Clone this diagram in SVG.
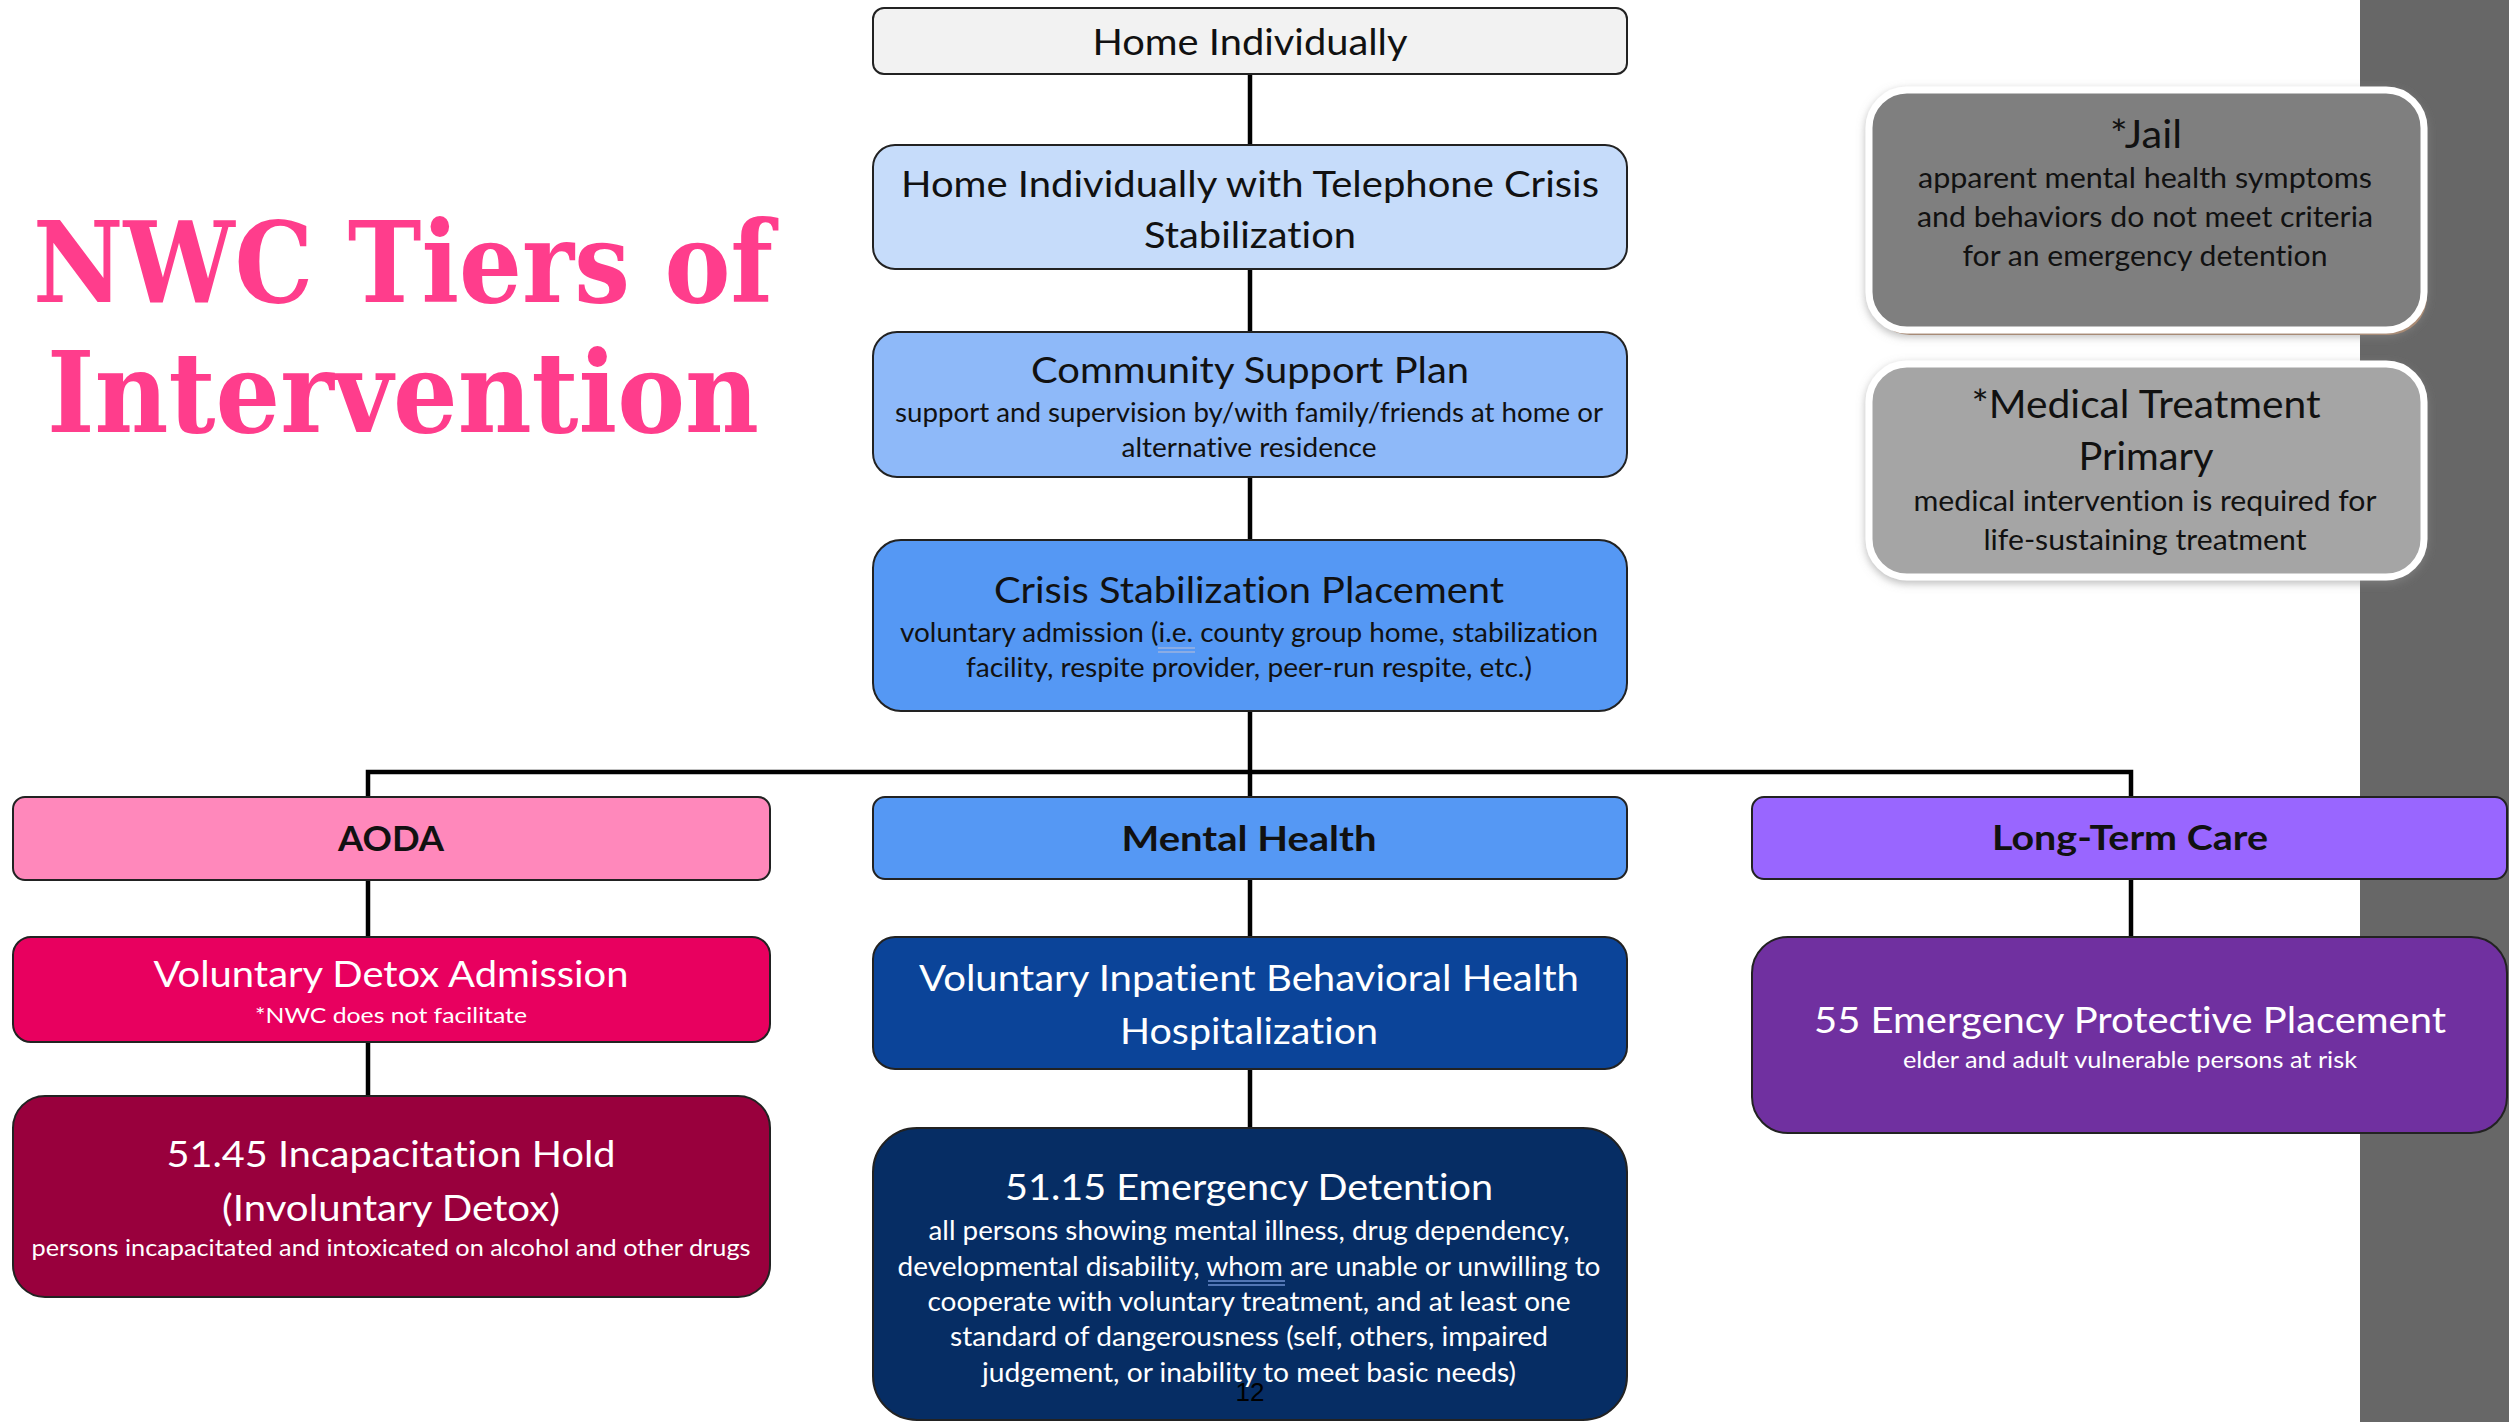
<svg xmlns="http://www.w3.org/2000/svg" width="2509" height="1422" viewBox="0 0 2509 1422">
  <style>
    .box { stroke: #222222; stroke-width: 2; }
    .t { font-family: Lato, "Open Sans", sans-serif; text-anchor: middle; font-variant-ligatures: none; }
    .h { font-size: 36px; }
    .s { font-size: 26px; }
    .b { font-size: 35px; font-weight: bold; }
    .dark { fill: #111111; }
    .light { fill: #ffffff; }
    .conn { stroke: #000000; stroke-width: 4.5; fill: none; stroke-linecap: square; }
    .title { font-family: "DejaVu Serif", "Liberation Serif", serif; font-weight: bold; font-size: 112px; fill: #FF3D8C; }
  </style>
  <defs>
    <filter id="glow" x="-10%" y="-10%" width="120%" height="130%">
      <feDropShadow dx="0" dy="3" stdDeviation="4" flood-color="#8c8c8c" flood-opacity="0.6"/>
    </filter>
  </defs>

  <rect width="2509" height="1422" fill="#ffffff"/>
  <!-- right edge band -->
  <rect x="2360" y="0" width="149" height="1422" fill="#676767"/>

  <!-- heading -->
  <g id="heading">
    <text class="title" x="33" y="302" textLength="740" lengthAdjust="spacingAndGlyphs">NWC Tiers of</text>
    <text class="title" x="47" y="432" textLength="712" lengthAdjust="spacingAndGlyphs">Intervention</text>
  </g>

  <!-- connectors -->
  <g id="connectors">
    <line class="conn" x1="1250" y1="74" x2="1250" y2="145"/>
    <line class="conn" x1="1250" y1="269" x2="1250" y2="332"/>
    <line class="conn" x1="1250" y1="477" x2="1250" y2="540"/>
    <line class="conn" x1="1250" y1="711" x2="1250" y2="797"/>
    <polyline class="conn" points="368,797 368,772 2131,772 2131,797"/>
    <line class="conn" x1="368" y1="880" x2="368" y2="937"/>
    <line class="conn" x1="368" y1="1042" x2="368" y2="1096"/>
    <line class="conn" x1="1250" y1="879" x2="1250" y2="937"/>
    <line class="conn" x1="1250" y1="1069" x2="1250" y2="1128"/>
    <line class="conn" x1="2131" y1="879" x2="2131" y2="937"/>
  </g>

  <!-- central column -->
  <g id="home-individually">
    <rect class="box" x="873" y="8" width="754" height="66" rx="11" fill="#F2F2F2"/>
    <text class="t h dark" x="1250" y="55" textLength="315" lengthAdjust="spacingAndGlyphs">Home Individually</text>
  </g>

  <g id="telephone-crisis">
    <rect class="box" x="873" y="145" width="754" height="124" rx="22" fill="#C6DCFA"/>
    <text class="t h dark" x="1250" y="197" textLength="698" lengthAdjust="spacingAndGlyphs">Home Individually with Telephone Crisis</text>
    <text class="t h dark" x="1250" y="248" textLength="212" lengthAdjust="spacingAndGlyphs">Stabilization</text>
  </g>

  <g id="community-support">
    <rect class="box" x="873" y="332" width="754" height="145" rx="24" fill="#8EB9F9"/>
    <text class="t h dark" x="1250" y="383" textLength="438" lengthAdjust="spacingAndGlyphs">Community Support Plan</text>
    <text class="t s dark" x="1249" y="422" textLength="708" lengthAdjust="spacingAndGlyphs">support and supervision by/with family/friends at home or</text>
    <text class="t s dark" x="1249" y="457" textLength="255" lengthAdjust="spacingAndGlyphs">alternative residence</text>
  </g>

  <g id="crisis-stabilization">
    <rect class="box" x="873" y="540" width="754" height="171" rx="28" fill="#5598F4"/>
    <text class="t h dark" x="1249" y="603" textLength="510" lengthAdjust="spacingAndGlyphs">Crisis Stabilization Placement</text>
    <text class="t s dark" x="1249" y="642" textLength="698" lengthAdjust="spacingAndGlyphs">voluntary admission (i.e. county group home, stabilization</text>
    <text class="t s dark" x="1249" y="677" textLength="566" lengthAdjust="spacingAndGlyphs">facility, respite provider, peer-run respite, etc.)</text>
    <line x1="1158" y1="648" x2="1195" y2="648" stroke="#9DB3E0" stroke-width="1.5"/>
    <line x1="1158" y1="652" x2="1195" y2="652" stroke="#9DB3E0" stroke-width="1.5"/>
  </g>

  <!-- AODA column -->
  <g id="aoda">
    <rect class="box" x="13" y="797" width="757" height="83" rx="12" fill="#FF88BB"/>
    <text class="t b dark" x="391" y="851" textLength="106" lengthAdjust="spacingAndGlyphs">AODA</text>
  </g>

  <g id="voluntary-detox">
    <rect class="box" x="13" y="937" width="757" height="105" rx="18" fill="#E8005F"/>
    <text class="t h light" x="391" y="987" textLength="475" lengthAdjust="spacingAndGlyphs">Voluntary Detox Admission</text>
    <text class="t light" style="font-size:21px" x="391" y="1023" textLength="272" lengthAdjust="spacingAndGlyphs">*NWC does not facilitate</text>
  </g>

  <g id="incapacitation-hold">
    <rect class="box" x="13" y="1096" width="757" height="201" rx="32" fill="#99003D"/>
    <text class="t h light" x="391" y="1167" textLength="449" lengthAdjust="spacingAndGlyphs">51.45 Incapacitation Hold</text>
    <text class="t h light" x="391" y="1221" textLength="338" lengthAdjust="spacingAndGlyphs">(Involuntary Detox)</text>
    <text class="t light" style="font-size:24px" x="391" y="1256" textLength="719" lengthAdjust="spacingAndGlyphs">persons incapacitated and intoxicated on alcohol and other drugs</text>
  </g>

  <!-- Mental Health column -->
  <g id="mental-health">
    <rect class="box" x="873" y="797" width="754" height="82" rx="12" fill="#5598F4"/>
    <text class="t b dark" x="1249" y="851" textLength="255" lengthAdjust="spacingAndGlyphs">Mental Health</text>
  </g>

  <g id="voluntary-inpatient">
    <rect class="box" x="873" y="937" width="754" height="132" rx="22" fill="#0B4499"/>
    <text class="t h light" x="1249" y="991" textLength="660" lengthAdjust="spacingAndGlyphs">Voluntary Inpatient Behavioral Health</text>
    <text class="t h light" x="1249" y="1044" textLength="258" lengthAdjust="spacingAndGlyphs">Hospitalization</text>
  </g>

  <g id="emergency-detention">
    <rect class="box" x="873" y="1128" width="754" height="292" rx="44" fill="#062D64"/>
    <text class="t h light" x="1249" y="1200" textLength="488" lengthAdjust="spacingAndGlyphs">51.15 Emergency Detention</text>
    <text class="t s light" x="1249" y="1240" textLength="641" lengthAdjust="spacingAndGlyphs">all persons showing mental illness, drug dependency,</text>
    <text class="t s light" x="1249" y="1276" textLength="703" lengthAdjust="spacingAndGlyphs">developmental disability, whom are unable or unwilling to</text>
    <text class="t s light" x="1249" y="1311" textLength="643" lengthAdjust="spacingAndGlyphs">cooperate with voluntary treatment, and at least one</text>
    <text class="t s light" x="1249" y="1346" textLength="598" lengthAdjust="spacingAndGlyphs">standard of dangerousness (self, others, impaired</text>
    <text class="t s light" x="1249" y="1382" textLength="534" lengthAdjust="spacingAndGlyphs">judgement, or inability to meet basic needs)</text>
    <line x1="1208" y1="1281" x2="1285" y2="1281" stroke="#6C8FD0" stroke-width="1.5"/>
    <line x1="1208" y1="1285" x2="1285" y2="1285" stroke="#6C8FD0" stroke-width="1.5"/>
  </g>

  <!-- Long-Term Care column -->
  <g id="long-term-care">
    <rect class="box" x="1752" y="797" width="755" height="82" rx="12" fill="#9966FF"/>
    <text class="t b dark" x="2130" y="850" textLength="276" lengthAdjust="spacingAndGlyphs">Long-Term Care</text>
  </g>

  <g id="protective-placement">
    <rect class="box" x="1752" y="937" width="755" height="196" rx="36" fill="#7030A0"/>
    <text class="t h light" x="2130" y="1033" textLength="632" lengthAdjust="spacingAndGlyphs">55 Emergency Protective Placement</text>
    <text class="t light" style="font-size:23px" x="2130" y="1068" textLength="454" lengthAdjust="spacingAndGlyphs">elder and adult vulnerable persons at risk</text>
  </g>

  <!-- side notes -->
  <g id="jail">
    <rect x="1872" y="95" width="555" height="240" rx="38" fill="#B98A68"/>
    <rect x="1869" y="90" width="555" height="240" rx="38" fill="#7F7F7F" stroke="#ffffff" stroke-width="7" filter="url(#glow)"/>
    <text class="t dark" style="font-size:38px" x="2146" y="148" textLength="72" lengthAdjust="spacingAndGlyphs">*Jail</text>
    <text class="t dark" style="font-size:28px" x="2145" y="188" textLength="454" lengthAdjust="spacingAndGlyphs">apparent mental health symptoms</text>
    <text class="t dark" style="font-size:28px" x="2145" y="227" textLength="456" lengthAdjust="spacingAndGlyphs">and behaviors do not meet criteria</text>
    <text class="t dark" style="font-size:28px" x="2145" y="266" textLength="365" lengthAdjust="spacingAndGlyphs">for an emergency detention</text>
  </g>

  <g id="medical-treatment">
    <rect x="1869" y="364" width="555" height="213" rx="38" fill="#A5A5A5" stroke="#ffffff" stroke-width="7" filter="url(#glow)"/>
    <text class="t dark" style="font-size:38px" x="2146" y="418" textLength="349" lengthAdjust="spacingAndGlyphs">*Medical Treatment</text>
    <text class="t dark" style="font-size:38px" x="2146" y="470" textLength="135" lengthAdjust="spacingAndGlyphs">Primary</text>
    <text class="t dark" style="font-size:28px" x="2145" y="511" textLength="463" lengthAdjust="spacingAndGlyphs">medical intervention is required for</text>
    <text class="t dark" style="font-size:28px" x="2145" y="550" textLength="323" lengthAdjust="spacingAndGlyphs">life-sustaining treatment</text>
  </g>

  <!-- page number -->
  <text x="1250" y="1401" font-family="Liberation Sans, Arial, sans-serif" font-size="26" text-anchor="middle" fill="#000000">12</text>
</svg>
